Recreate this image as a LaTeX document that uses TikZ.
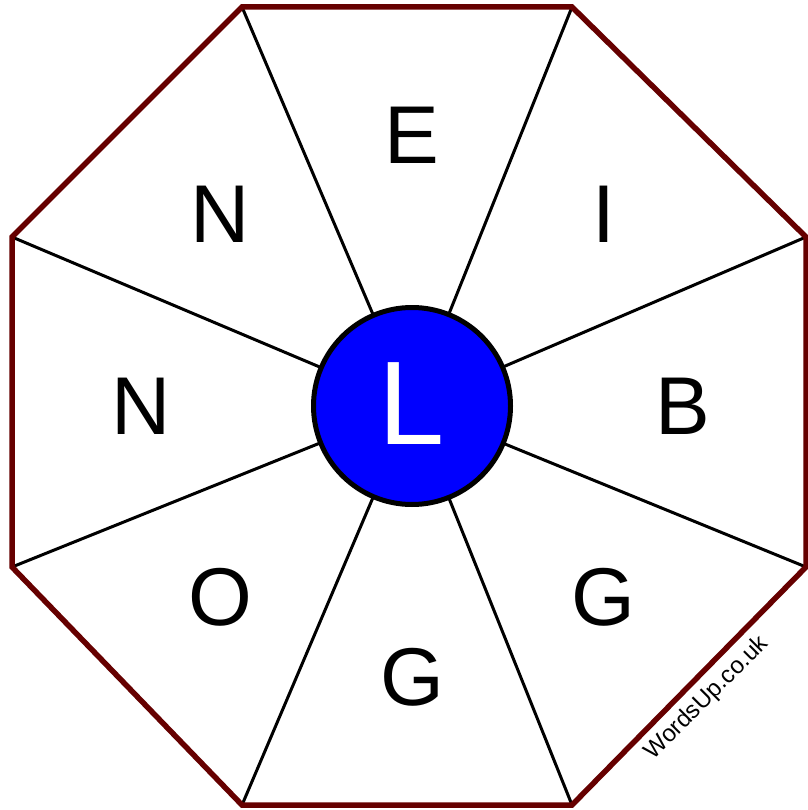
\documentclass[tikz,border=0pt]{standalone}
\usepackage{fontspec}
\setmainfont{Liberation Sans}
\usetikzlibrary{calc}
\definecolor{rim}{RGB}{102,0,0}
\definecolor{hubblue}{RGB}{0,0,255}
\tikzset{
  rimline/.style={draw=rim,line width=5.5pt,line join=miter},
  spoke/.style={draw=black,line width=3pt},
  hub/.style={circle,draw=black,fill=hubblue,line width=5pt,minimum size=197pt,
    inner sep=0pt,text=white,font=\fontsize{119}{119}\selectfont},
  letter/.style={inner sep=0pt,font=\fontsize{82}{82}\selectfont},
  stamp/.style={rotate=45,font=\fontsize{24}{24}\selectfont},
}
\begin{document}
\begin{tikzpicture}[x=1pt,y=-1pt]
  \useasboundingbox[fill=white] (0,0) rectangle (807,810);
  % octagon corners
  \coordinate (v1) at (242,7);
  \coordinate (v2) at (572,7);
  \coordinate (v3) at (806,237);
  \coordinate (v4) at (806,567);
  \coordinate (v5) at (572,805);
  \coordinate (v6) at (242,805);
  \coordinate (v7) at (12,567);
  \coordinate (v8) at (12,237);
  \coordinate (c) at (412,406);
  \foreach \i in {1,...,8} \draw[spoke] (c) -- (v\i);
  \draw[rimline] (v1) -- (v2) -- (v3) -- (v4) -- (v5) -- (v6) -- (v7) -- (v8) -- cycle;
  \node[hub] (hub) at (c) {\raisebox{4pt}{L}};
  % outer letters
  \foreach \a/\t [count=\i] in {90/E,45/I,0/B,-45/G,-90/G,-135/O,180/N,135/N}
    \node[letter] (l\i) at ($(c)+(\a:271pt)$) {\t};
  \node[stamp] (site) at (707,698) {WordsUp.co.uk};
\end{tikzpicture}
\end{document}
